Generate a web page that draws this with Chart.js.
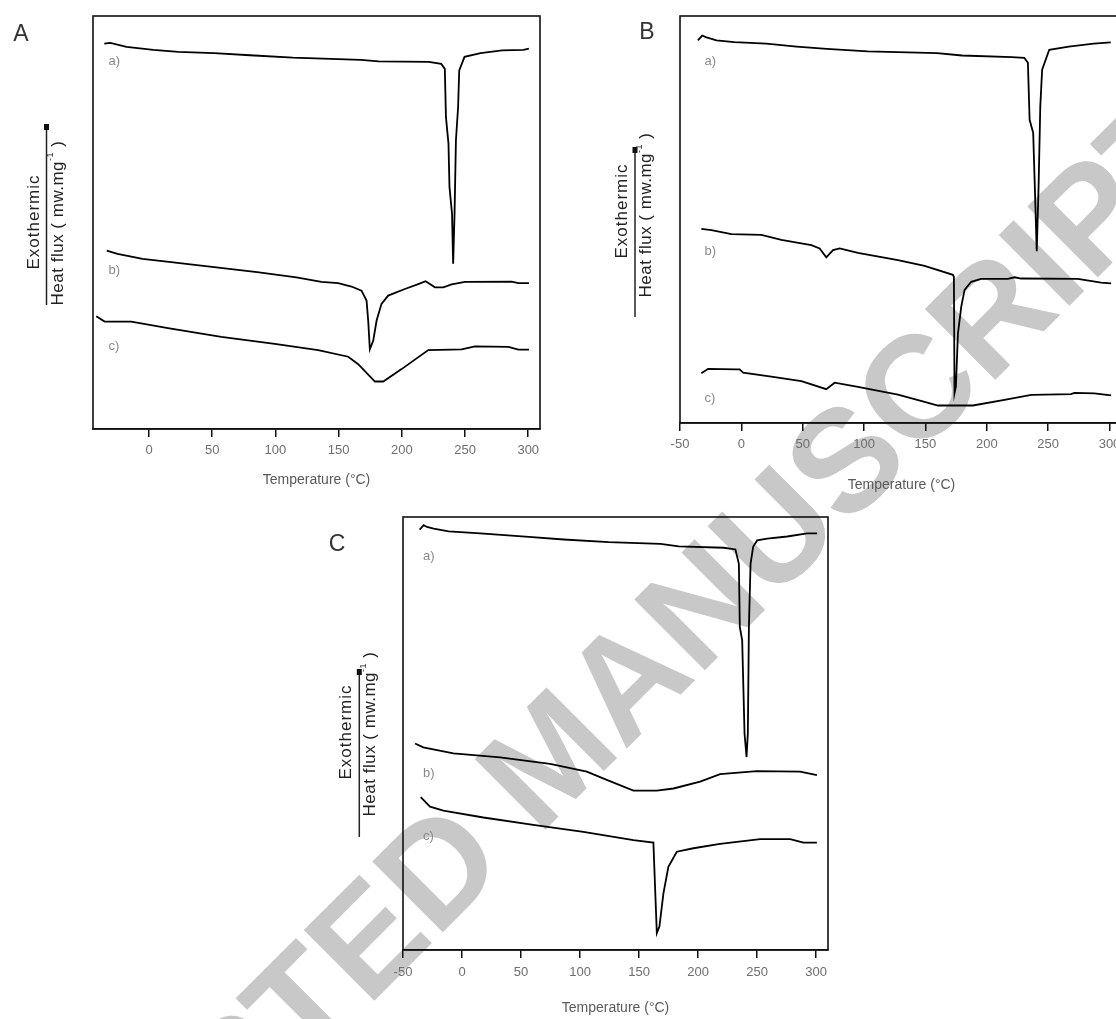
<!DOCTYPE html>
<html>
<head>
<meta charset="utf-8">
<script src="https://cdn.jsdelivr.net/npm/chart.js@4.4.1/dist/chart.umd.min.js"></script>
<style>
html, body { margin: 0; padding: 0; background: #fff; overflow: hidden; }
#page { position: relative; width: 1116px; height: 1019px; overflow: hidden; }
canvas { position: absolute; }
#watermark {
    position: absolute; left: 549px; top: 756px;
    transform: translate(-50%, -50%) rotate(-45deg);
    font: bold 145px "Liberation Sans", Arial, sans-serif;
    color: #c8c8c8; white-space: nowrap; line-height: 1;
}
</style>
</head>
<body>
<div id="page">
    <div id="watermark">ACCEPTED MANUSCRIPT</div>
    <canvas id="chartA" width="560" height="500" style="left:0;top:0"></canvas>
    <canvas id="chartB" width="580" height="500" style="left:560px;top:0"></canvas>
    <canvas id="chartC" width="560" height="519" style="left:300px;top:500px"></canvas>
</div>
<script>
// panel A
const tempA_a = [-35.4, -30.6, -17.8, 3.4, 23.2, 51.5, 79.8, 113.8, 167.5, 181.7, 221.3, 231.2, 234.0, 234.9, 236.9, 237.7, 239.7, 240.6, 241.7, 242.8, 244.5, 245.4, 249.6, 262.3, 279.3, 296.3, 300.5];
const fluxA_a = [93.3, 93.5, 92.5, 91.8, 91.3, 91.0, 90.5, 89.9, 89.4, 89.0, 88.9, 88.4, 87.2, 75.5, 69.1, 58.6, 52.1, 40.0, 52.1, 69.9, 77.9, 86.8, 90.1, 91.0, 91.7, 91.8, 92.1];
const tempA_b = [-33.4, -24.9, -5.1, 17.5, 51.5, 85.5, 116.6, 136.4, 149.6, 160.2, 168.1, 172.1, 173.4, 174.7, 177.4, 180.0, 183.9, 189.2, 202.4, 213.0, 218.8, 222.2, 226.2, 232.8, 239.4, 250.0, 286.9, 292.2, 300.6];
const fluxA_b = [43.2, 42.4, 41.2, 40.4, 39.2, 38.0, 36.7, 35.6, 35.3, 34.5, 33.5, 31.1, 26.2, 19.3, 21.4, 26.2, 30.3, 32.3, 33.9, 35.1, 35.8, 35.1, 34.3, 34.3, 35.0, 35.6, 35.7, 35.3, 35.3];
const tempA_c = [-41.7, -35.1, -14.0, 15.0, 57.2, 99.5, 133.8, 157.6, 165.5, 178.7, 185.3, 199.8, 220.9, 247.3, 257.9, 284.3, 292.2, 300.6];
const fluxA_c = [27.3, 26.0, 26.0, 24.4, 22.3, 20.6, 19.1, 17.5, 15.7, 11.5, 11.5, 14.5, 19.1, 19.3, 20.0, 19.9, 19.2, 19.2];

// panel B
const tempB_a = [-35.4, -31.9, -29.0, -20.3, -5.8, 20.3, 45.0, 69.6, 103.0, 159.5, 179.8, 220.4, 230.6, 233.5, 234.9, 237.8, 239.3, 240.7, 242.2, 243.6, 245.1, 250.9, 266.8, 287.1, 301.0];
const fluxB_a = [94.0, 95.2, 94.8, 94.0, 93.6, 93.2, 92.5, 91.9, 91.3, 90.9, 90.3, 89.9, 89.7, 88.5, 74.5, 71.3, 56.5, 42.2, 58.1, 77.8, 86.8, 91.7, 92.5, 93.2, 93.5];
const tempB_b = [-32.6, -24.4, -8.1, 16.3, 32.6, 57.0, 63.8, 69.2, 74.7, 80.1, 95.0, 127.6, 149.3, 172.4, 173.2, 173.7, 174.8, 176.5, 179.2, 181.9, 187.3, 195.4, 217.2, 222.6, 228.0, 274.2, 293.2, 301.3];
const fluxB_b = [47.7, 47.4, 46.4, 46.2, 45.0, 43.7, 42.9, 40.7, 42.5, 42.9, 41.8, 40.0, 38.6, 36.4, 35.9, 7.3, 8.9, 22.0, 28.6, 32.7, 34.7, 35.4, 35.4, 35.8, 35.5, 35.4, 34.5, 34.3];
const tempB_c = [-32.6, -27.1, -4.1, -1.4, 1.4, 24.4, 48.9, 69.2, 76.0, 95.0, 127.6, 149.3, 160.2, 188.7, 214.4, 236.2, 268.7, 271.4, 287.7, 301.3];
const fluxB_c = [12.2, 13.3, 13.2, 13.2, 12.4, 11.4, 10.3, 8.3, 9.9, 8.9, 7.0, 5.2, 4.3, 4.3, 5.7, 6.9, 7.1, 7.4, 7.3, 6.8];

// panel C
const tempC_a = [-35.9, -32.5, -29.7, -24.0, -11.3, 15.5, 56.5, 86.2, 124.3, 168.1, 183.6, 221.8, 231.6, 234.5, 235.3, 237.3, 239.3, 241.0, 242.1, 243.0, 244.4, 246.6, 250.0, 258.5, 275.4, 292.4, 300.8];
const fluxC_a = [97.1, 98.1, 97.7, 97.3, 96.7, 96.2, 95.4, 94.8, 94.2, 93.8, 93.2, 92.9, 92.5, 89.2, 74.6, 71.5, 50.0, 44.6, 50.0, 74.6, 89.2, 93.1, 94.6, 95.0, 95.5, 96.2, 96.2];
const tempC_b = [-39.8, -32.8, -7.3, 32.2, 74.6, 105.7, 122.6, 145.2, 165.0, 179.1, 201.7, 218.6, 249.7, 286.4, 300.6];
const fluxC_b = [47.7, 46.8, 45.4, 44.5, 43.0, 41.2, 39.3, 36.8, 36.8, 37.3, 38.9, 40.6, 41.3, 41.2, 40.4];
const tempC_c = [-35.0, -27.1, -15.8, 18.1, 60.4, 102.8, 145.2, 162.1, 163.6, 165.0, 167.2, 170.6, 174.8, 181.9, 196.0, 218.6, 252.5, 278.0, 289.2, 300.6];
const fluxC_c = [35.3, 33.1, 32.2, 30.6, 28.9, 27.3, 25.4, 24.8, 13.9, 3.9, 5.4, 13.1, 19.2, 22.7, 23.5, 24.5, 25.6, 25.6, 24.8, 24.8];

const ticksA = [0, 50, 100, 150, 200, 250, 300];
const ticksBC = [-50, 0, 50, 100, 150, 200, 250, 300];
const curveNames = ['a)', 'b)', 'c)'];

const FONT = '"Liberation Sans", Arial, sans-serif';

function points(t, f) {
    return t.map((x, i) => ({ x: x, y: f[i] }));
}

// frame, curve names, panel letter and the exothermic arrow
const framePlugin = {
    id: 'frame',
    afterDraw(chart, args, opts) {
        const ctx = chart.ctx;
        const ca = chart.chartArea;
        const xs = chart.scales.x, ys = chart.scales.y;
        ctx.save();
        ctx.strokeStyle = '#111';
        ctx.lineWidth = 1.6;
        ctx.strokeRect(ca.left, ca.top, ca.right - ca.left, ca.bottom - ca.top);

        ctx.fillStyle = '#8a8a8a';
        ctx.font = '13px ' + FONT;
        ctx.textAlign = 'left';
        ctx.textBaseline = 'middle';
        opts.labels.forEach((v, i) => {
            ctx.fillText(curveNames[i], xs.getPixelForValue(opts.labelX), ys.getPixelForValue(v));
        });

        ctx.fillStyle = '#333';
        ctx.font = '23px ' + FONT;
        ctx.textAlign = 'center';
        ctx.fillText(opts.letter, opts.letterPos[0], opts.letterPos[1]);

        const yt = opts.yTitle;
        ctx.strokeStyle = '#222';
        ctx.lineWidth = 1.5;
        ctx.beginPath();
        ctx.moveTo(yt.x, yt.top);
        ctx.lineTo(yt.x, yt.bottom);
        ctx.stroke();
        ctx.fillStyle = '#111';
        ctx.fillRect(yt.x - 2.5, yt.top - 1, 5, 6);

        ctx.fillStyle = '#222';
        ctx.save();
        ctx.translate(yt.x - 12.5, yt.exoY);
        ctx.rotate(-Math.PI / 2);
        ctx.font = '17px ' + FONT;
        ctx.letterSpacing = '1px';
        ctx.fillText('Exothermic', 0, 0);
        ctx.restore();

        ctx.save();
        ctx.translate(yt.x + 11.5, yt.hfY);
        ctx.rotate(-Math.PI / 2);
        ctx.letterSpacing = '0.5px';
        const main = 'Heat flux ( mw.mg', sup = '-1', close = ' )';
        ctx.font = '17px ' + FONT;
        const w1 = ctx.measureText(main).width;
        const w3 = ctx.measureText(close).width;
        ctx.font = '9px ' + FONT;
        const w2 = ctx.measureText(sup).width;
        let x0 = -(w1 + w2 + w3) / 2;
        ctx.textAlign = 'left';
        ctx.font = '17px ' + FONT;
        ctx.fillText(main, x0, 0);
        ctx.font = '9px ' + FONT;
        ctx.fillText(sup, x0 + w1, -7);
        ctx.font = '17px ' + FONT;
        ctx.fillText(close, x0 + w1 + w2, 0);
        ctx.restore();

        ctx.restore();
    }
};

function makeChart(id, series, cfg) {
    return new Chart(document.getElementById(id), {
        type: 'line',
        data: {
            datasets: series.map(s => ({
                data: points(s[0], s[1]),
                borderColor: '#000',
                borderWidth: 1.8,
                pointRadius: 0,
                tension: 0,
                fill: false
            }))
        },
        options: {
            responsive: false,
            animation: false,
            events: [],
            layout: { padding: cfg.padding },
            plugins: {
                legend: { display: false },
                tooltip: { enabled: false },
                frame: cfg.frame
            },
            scales: {
                x: {
                    type: 'linear',
                    min: cfg.min,
                    max: cfg.max,
                    afterBuildTicks: s => { s.ticks = cfg.ticks.map(v => ({ value: v })); },
                    afterFit: s => { s.height = cfg.axisH; },
                    grid: { drawOnChartArea: false, drawTicks: true, tickLength: 8, color: '#111', lineWidth: 1.5 },
                    border: { display: true, color: '#111', width: 1.6 },
                    ticks: {
                        color: '#6e6e6e',
                        font: { size: 13, family: FONT },
                        padding: cfg.tickPad,
                        maxRotation: 0,
                        autoSkip: false,
                        callback: v => String(v)
                    },
                    title: {
                        display: true,
                        text: 'Temperature (°C)',
                        color: '#5a5a5a',
                        font: { size: 14, family: FONT },
                        padding: { top: 0, bottom: cfg.titlePad }
                    }
                },
                y: { display: false, min: 0, max: 100 }
            }
        },
        plugins: [framePlugin]
    });
}

makeChart('chartA', [[tempA_a, fluxA_a], [tempA_b, fluxA_b], [tempA_c, fluxA_c]], {
    min: -44.3, max: 309.3, ticks: ticksA,
    padding: { left: 93, right: 20, top: 16, bottom: 0 },
    axisH: 71, tickPad: 6, titlePad: 11,
    frame: {
        labelX: -32, labels: [89.1, 38.3, 20.1],
        letter: 'A', letterPos: [21, 35],
        yTitle: { x: 46.5, top: 125, bottom: 305, exoY: 222, hfY: 223 }
    }
});

makeChart('chartB', [[tempB_a, fluxB_a], [tempB_b, fluxB_b], [tempB_c, fluxB_c]], {
    min: -50, max: 311, ticks: ticksBC,
    padding: { left: 120, right: 17, top: 16, bottom: 0 },
    axisH: 77, tickPad: 6, titlePad: 6,
    frame: {
        labelX: -30, labels: [88.8, 42.1, 6.1],
        letter: 'B', letterPos: [87, 33],
        yTitle: { x: 75, top: 148, bottom: 317, exoY: 211, hfY: 215 }
    }
});

makeChart('chartC', [[tempC_a, fluxC_a], [tempC_b, fluxC_b], [tempC_c, fluxC_c]], {
    min: -50, max: 310, ticks: ticksBC,
    padding: { left: 103, right: 32, top: 17, bottom: 0 },
    axisH: 69, tickPad: 7, titlePad: 2,
    frame: {
        labelX: -33, labels: [90.8, 40.8, 26.3],
        letter: 'C', letterPos: [37, 45],
        yTitle: { x: 59.3, top: 170, bottom: 337, exoY: 232, hfY: 234 }
    }
});
</script>
</body>
</html>
